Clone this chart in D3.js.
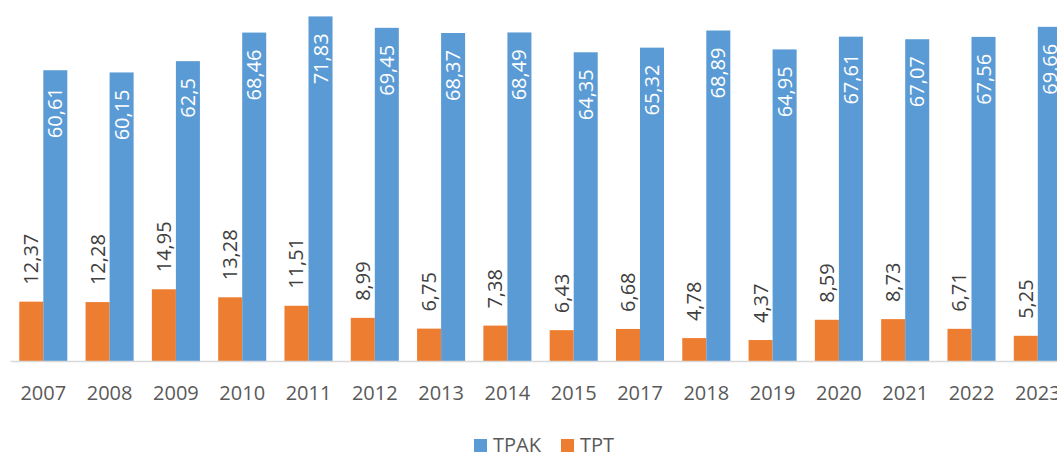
<!DOCTYPE html>
<html>
<head>
<meta charset="utf-8">
<script src="https://cdn.jsdelivr.net/npm/d3@7"></script>
<style>
  body { margin: 0; background: #fff; }
  text { font-family: "Open Sans", sans-serif; }
</style>
</head>
<body>
<div class="chart"></div>
<script>
var years = ["2007", "2008", "2009", "2010", "2011", "2012", "2013", "2014",
             "2015", "2017", "2018", "2019", "2020", "2021", "2022", "2023"];
var tpak = [60.61, 60.15, 62.5, 68.46, 71.83, 69.45, 68.37, 68.49,
            64.35, 65.32, 68.89, 64.95, 67.61, 67.07, 67.56, 69.66];
var tpt = [12.37, 12.28, 14.95, 13.28, 11.51, 8.99, 6.75, 7.38,
           6.43, 6.68, 4.78, 4.37, 8.59, 8.73, 6.71, 5.25];
var seriesNames = ["TPT", "TPAK"];
var seriesColors = {TPT: "#ED7D31", TPAK: "#5B9BD5"};

var width = 1057, height = 453,
    baseline = 361,
    step = 66.3,
    left = 10.15;

var svg = d3.select("div.chart").append("svg")
    .attr("width", width)
    .attr("height", height);

var x0 = d3.scaleBand()
    .domain(years)
    .range([left, left + step * years.length])
    .padding(0);

var x1 = d3.scaleBand()
    .domain(seriesNames)
    .range([0, x0.bandwidth()])
    .paddingInner(0)
    .paddingOuter(0.38);

var y = d3.scaleLinear()
    .domain([0, 75.25])
    .range([baseline, 0]);

// rows for drawing
var rows = years.map(function(yr, i) {
  return {year: yr, TPT: tpt[i], TPAK: tpak[i]};
});

var groups = svg.append("g").attr("class", "bars")
  .selectAll("g")
  .data(rows)
  .enter().append("g")
    .attr("transform", function(d) { return "translate(" + x0(d.year) + ",0)"; });

var bars = groups.selectAll("rect")
  .data(function(d) { return seriesNames.map(function(s) { return {key: s, value: d[s]}; }); })
  .enter().append("rect")
    .attr("x", function(d) { return x1(d.key); })
    .attr("y", function(d) { return y(d.value); })
    .attr("width", x1.bandwidth())
    .attr("height", function(d) { return baseline - y(d.value); })
    .attr("fill", function(d) { return seriesColors[d.key]; });

// axis
var xAxis = d3.axisBottom(x0).tickSize(0).tickSizeOuter(0).tickPadding(25);
var axisG = svg.append("g")
    .attr("transform", "translate(0," + baseline + ")")
    .call(xAxis);
axisG.select(".domain").attr("stroke", "#d9d9d9").attr("stroke-width", 1.5);
axisG.selectAll("text")
    .style("font-size", "20px")
    .style("font-family", "'Open Sans', sans-serif")
    .attr("fill", "#595959");

// value labels
function fmt(v) { return String(v).replace(".", ","); }

groups.selectAll("text.lbl")
  .data(function(d) { return seriesNames.map(function(s) { return {key: s, value: d[s]}; }); })
  .enter().append("text")
    .attr("class", "lbl")
    .attr("transform", function(d) {
      var cx = x1(d.key) + x1.bandwidth() / 2 + 7;
      var cy = d.key === "TPAK" ? y(d.value) + 17 : y(d.value) - 17;
      return "translate(" + cx + "," + cy + ") rotate(-90)";
    })
    .attr("text-anchor", function(d) { return d.key === "TPAK" ? "end" : "start"; })
    .attr("fill", function(d) { return d.key === "TPAK" ? "#ffffff" : "#404040"; })
    .style("font-size", "20px")
    .text(function(d) { return fmt(d.value); });

// legend
var legend = svg.append("g").attr("class", "legend");
var legendItems = [
  {name: "TPAK", x: 474},
  {name: "TPT", x: 561}
];
legend.selectAll("rect")
  .data(legendItems)
  .enter().append("rect")
    .attr("x", function(d) { return d.x; })
    .attr("y", 439)
    .attr("width", 13)
    .attr("height", 13)
    .attr("fill", function(d) { return seriesColors[d.name]; });
legend.selectAll("text")
  .data(legendItems)
  .enter().append("text")
    .attr("x", function(d) { return d.x + 19; })
    .attr("y", 452)
    .attr("fill", "#595959")
    .style("font-size", "20px")
    .text(function(d) { return d.name; });
</script>
</body>
</html>
